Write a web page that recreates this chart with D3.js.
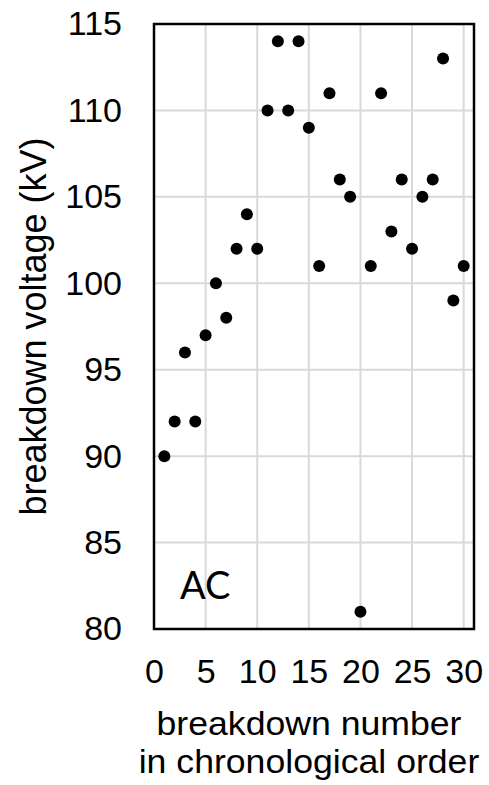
<!DOCTYPE html>
<html>
<head>
<meta charset="utf-8">
<script src="https://cdn.jsdelivr.net/npm/d3@7"></script>
<style>
  body { margin: 0; background: #fff; }
  text { font-family: "Liberation Sans", Arial, sans-serif; fill: #000; }
</style>
</head>
<body>
<div id="chart"></div>
<script>
// données
const breakdownNumber = d3.range(1, 31);
const breakdownVoltage = [90, 92, 96, 92, 97, 100, 98, 102, 104, 102,
                          110, 114, 110, 114, 109, 101, 111, 106, 105, 81,
                          101, 111, 103, 106, 102, 105, 106, 113, 99, 101];
const xTicks = [0, 5, 10, 15, 20, 25, 30];
const yTicks = [80, 85, 90, 95, 100, 105, 110, 115];
const panelLabel = "AC";
const xTitleLines = ["breakdown number", "in chronological order"];

const W = 489, H = 785;
const plotLeft = 154, plotRight = 474, plotTop = 24, plotBottom = 629;

const svg = d3.select("#chart").append("svg")
  .attr("width", W).attr("height", H);

const x = d3.scaleLinear().domain([0, 31]).range([plotLeft, plotRight]);
const y = d3.scaleLinear().domain([80, 115]).range([plotBottom, plotTop]);

// grille
svg.append("g").selectAll("line")
  .data(xTicks.filter(d => d > 0))
  .join("line")
  .attr("x1", d => x(d)).attr("x2", d => x(d))
  .attr("y1", plotTop).attr("y2", plotBottom)
  .attr("stroke", "#d9d9d9").attr("stroke-width", 2);

svg.append("g").selectAll("line")
  .data(yTicks.filter(d => d > 80 && d < 115))
  .join("line")
  .attr("x1", plotLeft).attr("x2", plotRight)
  .attr("y1", d => y(d)).attr("y2", d => y(d))
  .attr("stroke", "#d9d9d9").attr("stroke-width", 2);

// cadre
svg.append("rect")
  .attr("x", plotLeft).attr("y", plotTop)
  .attr("width", plotRight - plotLeft).attr("height", plotBottom - plotTop)
  .attr("fill", "none").attr("stroke", "#000").attr("stroke-width", 2.5);

// axes (textes seulement)
const xAxis = svg.append("g")
  .attr("transform", `translate(0,${plotBottom})`)
  .call(d3.axisBottom(x).tickValues(xTicks).tickSize(0));
xAxis.select(".domain").remove();
xAxis.selectAll("text").attr("font-size", 34).attr("dy", "0.71em").attr("y", 30);

const yAxis = svg.append("g")
  .attr("transform", `translate(${plotLeft},0)`)
  .call(d3.axisLeft(y).tickValues(yTicks).tickSize(0).tickPadding(32));
yAxis.select(".domain").remove();
yAxis.selectAll("text").attr("font-size", 34);
svg.selectAll(".tick text").style("font-family", "'Liberation Sans', Arial, sans-serif");

// points
svg.append("g").selectAll("circle")
  .data(breakdownNumber)
  .join("circle")
  .attr("cx", d => x(d))
  .attr("cy", (d, i) => y(breakdownVoltage[i]))
  .attr("r", 6)
  .attr("fill", "#000");

// étiquette AC
svg.append("text")
  .attr("x", 180).attr("y", 599)
  .style("font-family", "Lato, 'DejaVu Sans', sans-serif")
  .attr("font-size", 38)
  .text(panelLabel);

// titres des axes
svg.append("text")
  .attr("transform", `translate(46,${(plotTop + plotBottom) / 2}) rotate(-90)`)
  .attr("text-anchor", "middle")
  .attr("font-size", 36)
  .text("breakdown voltage (kV)");

// titre x sur deux lignes (un peu étiré en largeur comme l'original)
svg.append("g")
  .attr("transform", "translate(309,0) scale(1.08,1)")
  .selectAll("text")
  .data(xTitleLines)
  .join("text")
  .attr("text-anchor", "middle")
  .attr("font-size", 33)
  .attr("x", 0)
  .attr("y", (d, i) => 735 + i * 38)
  .text(d => d);
</script>
</body>
</html>
